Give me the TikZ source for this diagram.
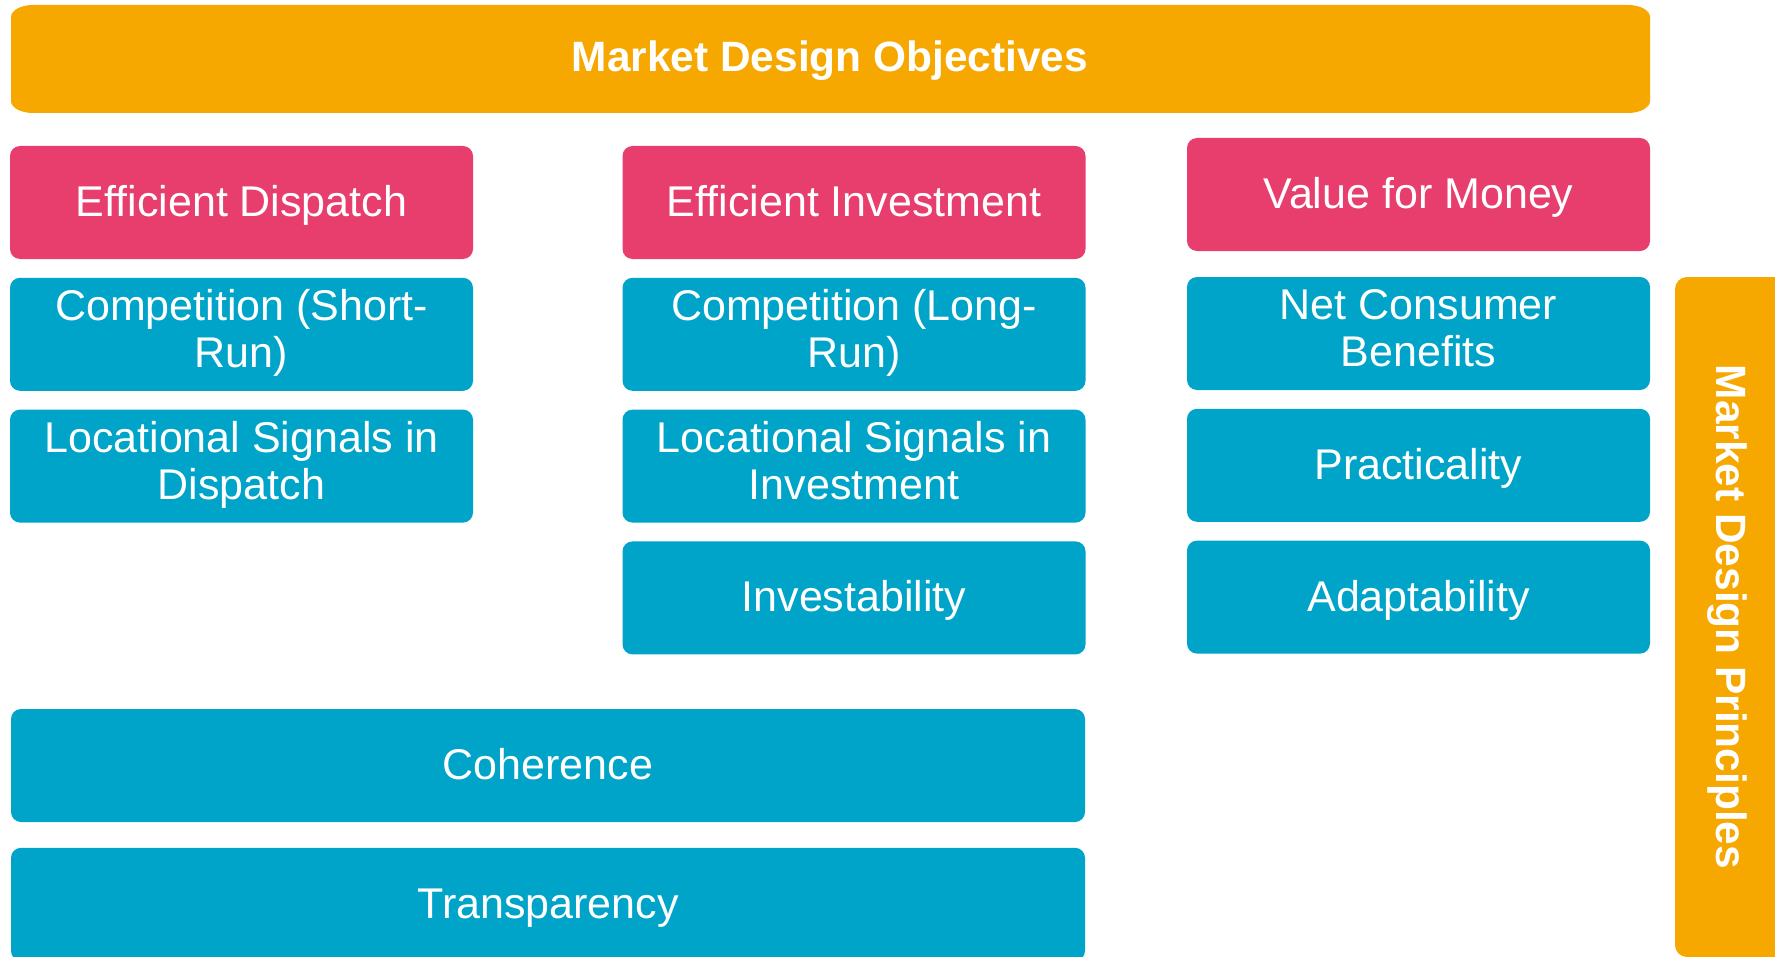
\documentclass[tikz,border=0pt]{standalone}
\usepackage{fontspec}
\setmainfont{Liberation Sans}
\usetikzlibrary{positioning}
\definecolor{mdorange}{RGB}{246,168,0}
\definecolor{mdpink}{RGB}{232,62,110}
\definecolor{mdblue}{RGB}{0,164,200}
\newcommand\capstrut{\rule[-6pt]{0pt}{26pt}}
\newcommand\pairstrut{\rule[-6pt]{0pt}{42pt}}
\newcommand\bannerstrut{\rule[-6pt]{0pt}{25pt}}

\begin{document}
\begin{tikzpicture}[x=0.5pt, y=-0.5pt, node distance=9pt]
    % Box styles for objectives and principles
    \tikzset{
        cell/.style={rounded corners=5pt, minimum width=231.5pt, minimum height=56.5pt,
            inner sep=0pt, text=white, align=center,
            font=\fontsize{21.5}{23.5}\selectfont,
            execute at begin node=\capstrut, execute at end node=\capstrut},
        paired/.style={execute at begin node=\pairstrut},
        objective/.style={cell, fill=mdpink},
        principle/.style={cell, fill=mdblue},
        wide/.style={principle, minimum width=537pt},
        banner/.style={text=white, inner sep=0pt, font=\bfseries\fontsize{21.2}{24}\selectfont,
            execute at begin node=\bannerstrut}
    }
    \useasboundingbox (0,0) rectangle (1775,957);
    \clip (0,0) rectangle (1775,957);

    % Objectives banner across the top
    \fill[mdorange] (33,5) -- (1628,5) arc[start angle=-90, end angle=0, x radius=22, y radius=12]
        -- (1650,101) arc[start angle=0, end angle=90, x radius=22, y radius=12]
        -- (33,113) arc[start angle=90, end angle=180, x radius=22, y radius=12]
        -- (11,17) arc[start angle=180, end angle=270, x radius=22, y radius=12] -- cycle;
    \node[banner] (objectives) at (830,59) {Market Design Objectives};

    % Principles banner down the right side
    \fill[mdorange] (1675,289) arc[start angle=180, end angle=270, radius=12]
        -- (1800,277) -- (1800,957) -- (1687,957)
        arc[start angle=90, end angle=180, radius=12] -- cycle;
    \node[banner, rotate=-90] (principles) at (1729,617) {Market Design Principles};

    % Dispatch column
    \node[objective] (dispatch) at (241.5,202.5) {Efficient Dispatch};
    \node[principle, paired, below=of dispatch] (shortrun) {Competition (Short-\\Run)};
    \node[principle, paired, below=of shortrun] (locdispatch) {Locational Signals in\\Dispatch};

    % Investment column
    \node[objective] (investment) at (854,202.5) {Efficient Investment};
    \node[principle, paired, below=of investment] (longrun) {Competition (Long-\\Run)};
    \node[principle, paired, below=of longrun] (locinvest) {Locational Signals in\\Investment};
    \node[principle, below=of locinvest] (investability) {Investability};

    % Value column
    \node[objective] (value) at (1418.5,194.5) {Value for Money};
    \node[principle, paired] (consumer) at (1418.5,333.5) {Net Consumer\\Benefits};
    \node[principle, below=of consumer] (practicality) {Practicality};
    \node[principle, below=of practicality] (adaptability) {Adaptability};

    % Principles spanning two columns
    \node[wide] (coherence) at (548,765.5) {Coherence};
    \node[wide, below=12.5pt of coherence] (transparency) {Transparency};
\end{tikzpicture}
\end{document}
